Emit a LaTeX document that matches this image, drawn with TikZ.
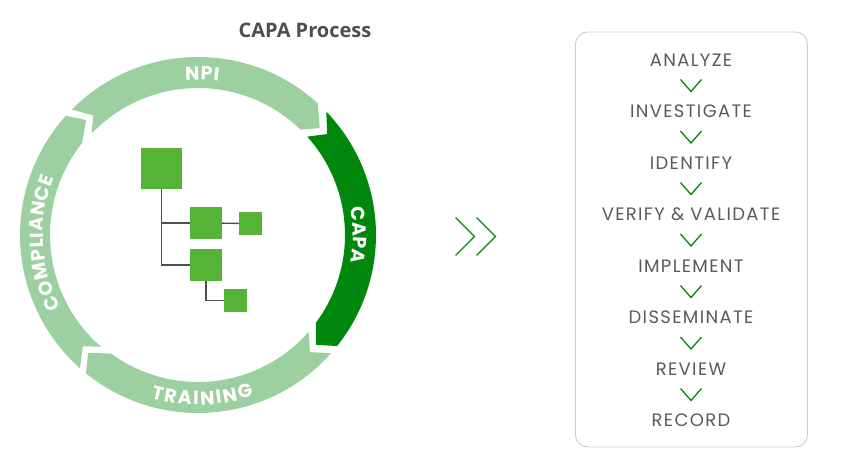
\documentclass[tikz,border=0pt]{standalone}
\usepackage{fontspec}
\usepackage{tikz}
\usetikzlibrary{calc,decorations.text}
\setmainfont{Poppins}
\newfontfamily\titlefont{Open Sans}
\newfontfamily\stepfont[LetterSpace=7.5]{Poppins}
\newfontfamily\ringfont{Poppins}
\definecolor{ringlight}{HTML}{9CD0A0}
\definecolor{ringdark}{HTML}{00880E}
\definecolor{treegreen}{HTML}{55B335}
\definecolor{treeline}{HTML}{4A4F52}
\definecolor{steptext}{HTML}{5A5A5A}
\definecolor{boxline}{HTML}{CCCCCC}
\tikzset{
  treebox/.style={shape=rectangle, fill=treegreen, inner sep=0pt, minimum size=#1},
  treelink/.style={draw=treeline, line width=1.4pt},
  steplabel/.style={text=steptext, inner sep=0pt, font=\stepfont\fontsize{18}{20}\selectfont},
  vmark/.style={draw=ringdark, line width=1.3pt},
  ringlabel/.style 2 args={decorate, decoration={text effects along path, text={#1}, text align=center,
    text effects/.cd,
    characters={text along path, text=white, inner xsep=#2, font=\ringfont\bfseries\fontsize{19}{21}\selectfont},
    character widths={text along path, inner xsep=#2, font=\ringfont\bfseries\fontsize{19}{21}\selectfont}}}
}
\begin{document}
\begin{tikzpicture}[x=1pt, y=1pt]
\useasboundingbox (0,0) rectangle (841,451);
\node[font=\titlefont\bfseries\fontsize{20}{22}\selectfont, text=treeline, inner sep=0pt](title) at (305,421) {CAPA Process};

% ring
\begin{scope}[shift={(198,216)}]
\fill[ringlight] (135.2:178pt) arc[start angle=135.2, end angle=47.7, radius=178pt] -- (41.3:162pt) -- (45.8:147pt) arc[start angle=45.8, end angle=136.4, radius=147pt] -- (131.2:159pt) -- cycle;
\fill[ringdark] (43.9:178pt) arc[start angle=43.9, end angle=-38.6, radius=178pt] -- (-43:161pt) -- (-36.7:147pt) arc[start angle=-36.7, end angle=42, radius=147pt] -- (38:164pt) -- cycle;
\fill[ringlight] (-41.6:178pt) arc[start angle=-41.6, end angle=-129, radius=178pt] -- (-133:161pt) -- (-126.2:147pt) arc[start angle=-126.2, end angle=-41.2, radius=147pt] -- (-46.3:162pt) -- cycle;
\fill[ringlight] (228.4:178pt) arc[start angle=228.4, end angle=138, radius=178pt] -- (134.2:160.5pt) -- (141.6:148pt) arc[start angle=141.6, end angle=229.1, radius=148pt] -- (224:160pt) -- cycle;

\path[ringlabel={NPI}{0.4pt}] (128.5:155pt) arc[start angle=128.5, end angle=48.5, radius=155pt];
\path[ringlabel={CAPA}{0.2pt}] (40:155pt) arc[start angle=40, end angle=-40, radius=155pt];
\path[ringlabel={TRAINING}{0.9pt}] (-128.5:170pt) arc[start angle=-128.5, end angle=-48.5, radius=170pt];
\path[ringlabel={COMPLIANCE}{0.4pt}] (223:155pt) arc[start angle=223, end angle=143, radius=155pt];
\end{scope}

% tree
\node[treebox=41pt](rootbox) at (161.5,282.5) {};
\node[treebox=32pt](upperbox) at (206,228) {};
\node[treebox=23pt](upperleaf) at (250.5,227.5) {};
\node[treebox=32pt](lowerbox) at (206,186) {};
\node[treebox=23pt](lowerleaf) at (235.5,150.5) {};
\draw[treelink] (rootbox.south) |- (upperbox.west);
\draw[treelink] (rootbox.south) |- (lowerbox.west);
\draw[treelink] (upperbox) -- (upperleaf);
\draw[treelink] (lowerbox.south) |- (lowerleaf.west);

% double chevron
\coordinate (tipa) at (474.5,214.5);
\coordinate (tipb) at (495.5,214.5);
\draw[vmark] ([shift={(-19,19)}]tipa) -- (tipa) -- ([shift={(-19,-19)}]tipa);
\draw[vmark] ([shift={(-19,19)}]tipb) -- (tipb) -- ([shift={(-19,-19)}]tipb);

% steps
\draw[boxline, line width=0.9pt, rounded corners=12pt] (575.5,4) rectangle (807.5,419);
\node[steplabel](analyze) at (691,391) {ANALYZE};
\node[steplabel](investigate) at (691,340) {INVESTIGATE};
\node[steplabel](identify) at (691,288) {IDENTIFY};
\node[steplabel](verify) at (691,237) {VERIFY \& VALIDATE};
\node[steplabel](implement) at (691,185) {IMPLEMENT};
\node[steplabel](disseminate) at (691,134) {DISSEMINATE};
\node[steplabel](review) at (691,82) {REVIEW};
\node[steplabel](record) at (691,31) {RECORD};
\foreach \a/\b in {analyze/investigate, investigate/identify, identify/verify, verify/implement, implement/disseminate, disseminate/review, review/record}
  \draw[vmark] ($(\a)!0.5!(\b)+(-10.5,6)$) -- ($(\a)!0.5!(\b)+(0,-6)$) -- ($(\a)!0.5!(\b)+(10.5,6)$);
\end{tikzpicture}
\end{document}
